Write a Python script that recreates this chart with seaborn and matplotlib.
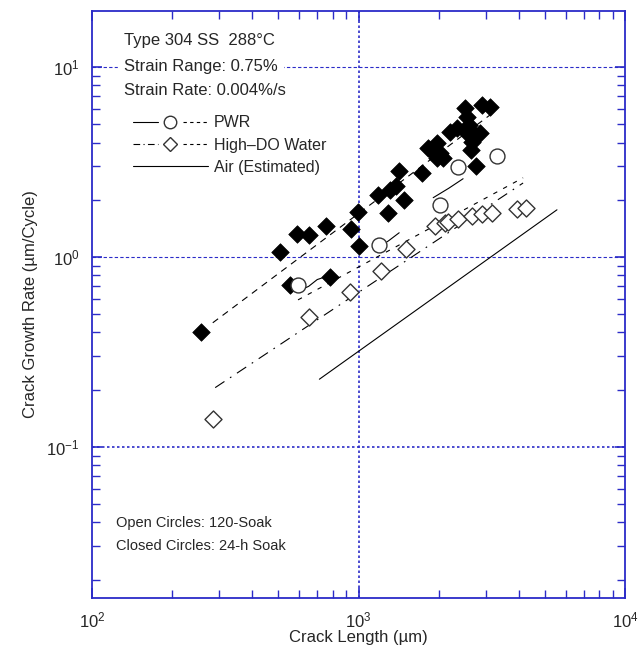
import matplotlib
matplotlib.use("Agg")
import matplotlib.pyplot as plt
import seaborn as sns
import pandas as pd
from matplotlib.lines import Line2D
from matplotlib.legend_handler import HandlerTuple
from matplotlib.ticker import LogLocator, NullFormatter

# 24-h soak (filled diamonds)
closed_len = [256, 507, 553, 589, 653, 755, 781, 935, 998, 1007, 1186, 1294, 1313,
              1383, 1482, 1423, 1727, 1829, 1965, 1908, 2022, 2081, 1965, 2204, 2334,
              2510, 2546, 2605, 2561, 2697, 2661, 2637, 2858, 2761, 2898, 3112]
closed_rate = [0.404, 1.06, 0.713, 1.32, 1.31, 1.46, 0.787, 1.40, 1.73, 1.14, 2.12,
               1.71, 2.25, 2.35, 2.00, 2.84, 2.78, 3.73, 3.97, 3.58, 3.51, 3.31, 3.31,
               4.56, 4.75, 6.06, 5.47, 4.95, 4.48, 4.48, 4.04, 3.66, 4.48, 3.01, 6.31, 6.18]

# PWR, 120-soak (open circles)
pwr_len = [594, 1191, 2022, 2366, 3304]
pwr_rate = [0.713, 1.16, 1.88, 2.97, 3.41]

# High-DO water (open diamonds)
hdo_len = [285, 653, 929, 1216, 1510, 1936, 2112, 2174, 2359, 2672, 2911, 3161, 3912, 4236]
hdo_rate = [0.140, 0.482, 0.656, 0.843, 1.10, 1.45, 1.50, 1.53, 1.59, 1.64, 1.68, 1.71,
            1.79, 1.81]

# trend lines (end points)
closed_fit_len = [284, 3112]
closed_fit_rate = [0.45, 5.59]
pwr_fit_len = [593, 4140]
pwr_fit_rate = [0.594, 2.61]
hdo_fit_len = [290, 4140]
hdo_fit_rate = [0.205, 2.45]
air_len = [713, 5546]
air_rate = [0.227, 1.77]

# short solid test segments next to the PWR points
seg1_len = [594, 650, 700, 781]
seg1_rate = [0.66, 0.70, 0.76, 0.80]
seg2_len = [1191, 1300, 1420]
seg2_rate = [1.12, 1.22, 1.34]
seg3_len = [1905, 2180, 2466]
seg3_rate = [2.05, 2.30, 2.58]

sns.set_style("white")
plt.rcParams['font.family'] = ['Liberation Sans', 'DejaVu Sans']

blue = "#2b2bc8"
fig, ax = plt.subplots(figsize=(6.38, 6.5), dpi=100)
fig.subplots_adjust(left=0.144, right=0.98, top=0.983, bottom=0.08)

sns.lineplot(x=closed_fit_len, y=closed_fit_rate, ax=ax, color="black", lw=0.8,
             linestyle=(0, (6, 5)))
sns.lineplot(x=pwr_fit_len, y=pwr_fit_rate, ax=ax, color="black", lw=0.8,
             linestyle=(0, (4, 6)))
sns.lineplot(x=hdo_fit_len, y=hdo_fit_rate, ax=ax, color="black", lw=0.8,
             linestyle=(0, (10, 6, 1.5, 6)))
sns.lineplot(x=air_len, y=air_rate, ax=ax, color="black", lw=0.8)
for sx, sy in [(seg1_len, seg1_rate), (seg2_len, seg2_rate), (seg3_len, seg3_rate)]:
    sns.lineplot(x=sx, y=sy, ax=ax, color="black", lw=0.8, sort=False)

sns.scatterplot(x=closed_len, y=closed_rate, ax=ax, marker="D", s=80,
                color="black", edgecolor="black", linewidth=0.5, zorder=4)
sns.scatterplot(x=hdo_len, y=hdo_rate, ax=ax, marker="D", s=75,
                facecolor="white", edgecolor="#333333", linewidth=1.0, zorder=4)
sns.scatterplot(x=pwr_len, y=pwr_rate, ax=ax, marker="o", s=115,
                facecolor="white", edgecolor="#333333", linewidth=1.0, zorder=4)

ax.set_xscale("log")
ax.set_yscale("log")
ax.set_xlim(100, 10000)
ax.set_ylim(0.016, 19.7)

ax.axvline(1000, color=blue, lw=1.2, linestyle=(0, (1.5, 1.5)), zorder=1)
for g in [10, 1, 0.1]:
    ax.axhline(g, color=blue, lw=1.2 if g == 0.1 else 0.8,
               linestyle=(0, (1.5, 1.5)) if g == 0.1 else (0, (3, 2)), zorder=1)

for s in ax.spines.values():
    s.set_color(blue)
    s.set_linewidth(1.3)
ax.xaxis.set_minor_locator(LogLocator(base=10, subs=range(2, 10)))
ax.yaxis.set_minor_locator(LogLocator(base=10, subs=range(2, 10)))
ax.xaxis.set_minor_formatter(NullFormatter())
ax.yaxis.set_minor_formatter(NullFormatter())
ax.tick_params(which="both", direction="in", top=True, right=True, left=True,
               bottom=True, color=blue, labelsize=12)
ax.tick_params(which="major", length=7, width=1.2, pad=9)
ax.tick_params(which="minor", length=6, width=1.0)

ax.set_xlabel("Crack Length (\u00b5m)", fontsize=12, labelpad=0)
ax.set_ylabel("Crack Growth Rate (\u00b5m/Cycle)", fontsize=12, labelpad=6)

ax.text(0.06, 0.962, "Type 304 SS  288\u00b0C", transform=ax.transAxes,
        fontsize=12, va="top")
ax.text(0.06, 0.918, "Strain Range: 0.75%", transform=ax.transAxes,
        fontsize=12, va="top", backgroundcolor="white")
ax.text(0.06, 0.878, "Strain Rate: 0.004%/s", transform=ax.transAxes,
        fontsize=12, va="top")
ax.text(0.045, 0.128, "Open Circles: 120-Soak", transform=ax.transAxes,
        fontsize=10.5, va="center")
ax.text(0.045, 0.088, "Closed Circles: 24-h Soak", transform=ax.transAxes,
        fontsize=10.5, va="center")

solid = Line2D([], [], color="black", lw=0.8)
dash = Line2D([], [], color="black", lw=0.8, linestyle=(0, (3, 3)))
dashdot = Line2D([], [], color="black", lw=0.8, linestyle=(0, (6, 3, 1, 3)))
circ = Line2D([], [], color="none", marker="o", ms=9, mfc="white", mec="#333333")
diam = Line2D([], [], color="none", marker="D", ms=7, mfc="white", mec="#333333")
ax.legend([(solid, circ, dash), (dashdot, diam, dash), solid],
          ["PWR", "High\u2013DO Water", "Air (Estimated)"],
          handler_map={tuple: HandlerTuple(ndivide=None, pad=0)},
          loc="upper left", bbox_to_anchor=(0.065, 0.833), frameon=False,
          fontsize=11.5, handlelength=4.7, handletextpad=0.35, labelspacing=0.45,
          borderaxespad=0)

fig.savefig("out.png", dpi=100)
